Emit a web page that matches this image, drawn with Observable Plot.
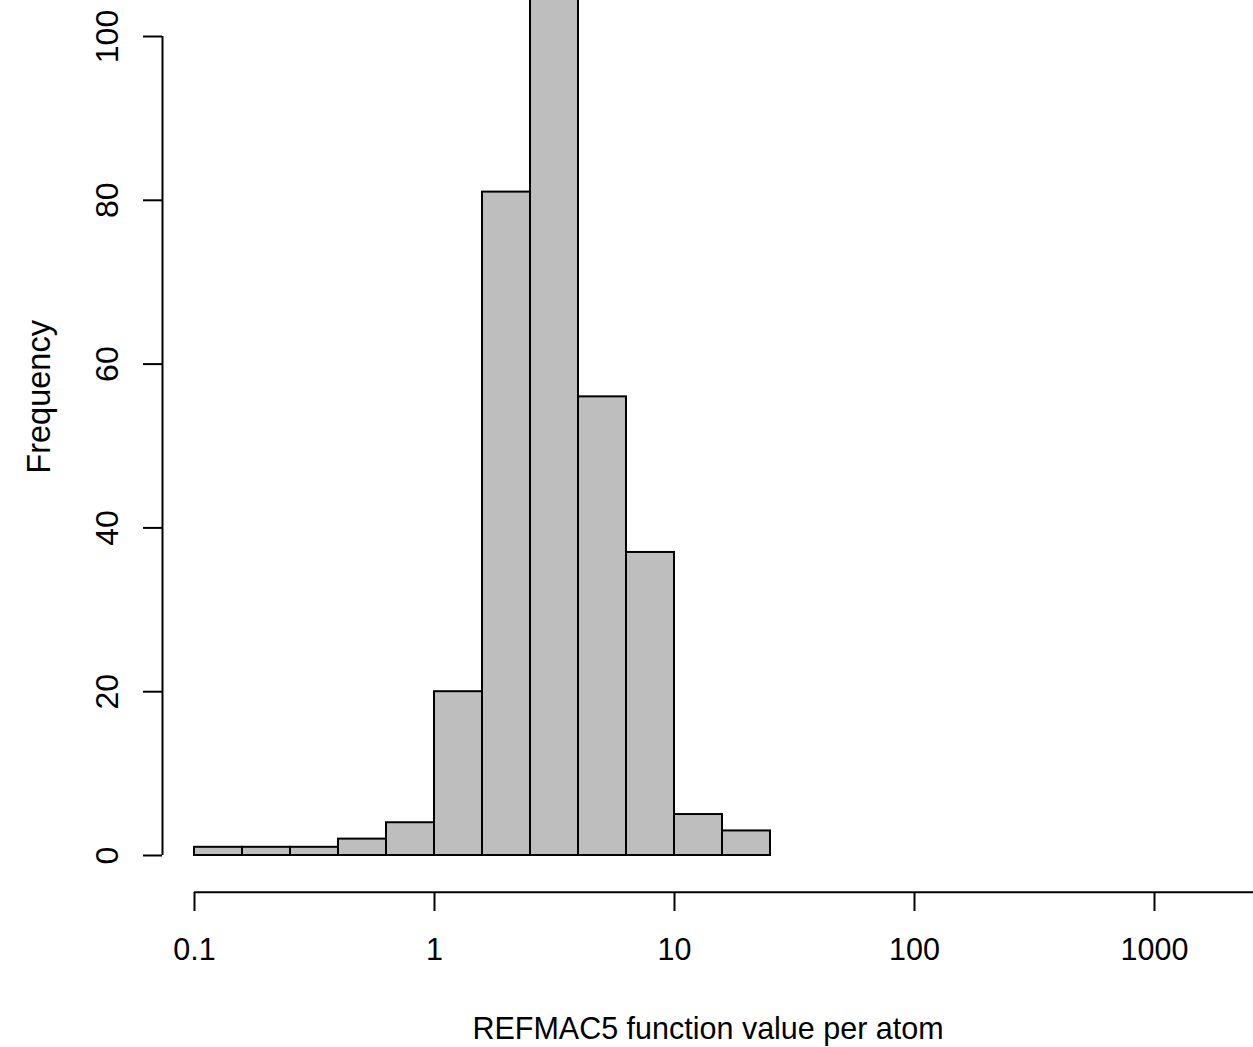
<!DOCTYPE html>
<html><head><meta charset="utf-8">
<script src="https://cdn.jsdelivr.net/npm/d3@7"></script>
<script src="https://cdn.jsdelivr.net/npm/@observablehq/plot@0.6"></script>
<style>
html,body{margin:0;padding:0;background:#fff;overflow:hidden}
#chart svg{display:block}
</style>
</head><body><div id="chart"></div>
<script>
// Histogram bin edges (log-spaced, 0.2 decade wide) and counts
const binEdges = [0.1, 0.15849, 0.25119, 0.39811, 0.63096, 1, 1.58489, 2.51189, 3.98107, 6.30957, 10, 15.84893, 25.11886];
const counts = [1, 1, 1, 2, 4, 20, 81, 112, 56, 37, 5, 3];
const xTicks = [0.1, 1, 10, 100, 1000];
const yTicks = [0, 20, 40, 60, 80, 100];
const xLabel = "REFMAC5 function value per atom";
const yLabel = "Frequency";

const bins = counts.map((c, i) => ({x1: binEdges[i], x2: binEdges[i + 1], count: c}));
const M = d3.max(counts);
const xAxisY = -0.04 * M;            // R-style axis offset below zero
const xLeft = 0.1 / Math.pow(10, 32 / 240);
const xRight = 0.1 * Math.pow(10, 1059 / 240);
const font = "'Liberation Sans', Arial, Helvetica, sans-serif";

const chart = Plot.plot({
  width: 1253,
  height: 1047,
  marginLeft: 162,
  marginRight: 0,
  marginTop: 36,
  marginBottom: 155,
  style: {fontFamily: font, fontSize: "31px", color: "black", background: "white", overflow: "hidden"},
  x: {type: "log", domain: [xLeft, xRight], range: [162, 1253]},
  y: {domain: [0, 100], range: [855, 36]},
  marks: [
    Plot.rectY(bins, {x1: "x1", x2: "x2", y1: 0, y2: "count", fill: "#BEBEBE", stroke: "black", strokeWidth: 2}),
    // axis lines
    Plot.ruleX([xLeft], {y1: yTicks[0], y2: yTicks[yTicks.length - 1], stroke: "black", strokeWidth: 2}),
    Plot.ruleY([xAxisY], {x1: xTicks[0], x2: xTicks[xTicks.length - 1] * 10, stroke: "black", strokeWidth: 2}),
    Plot.axisX(xTicks, {tickSize: 19, tickPadding: 27, strokeWidth: 2, tickFormat: d => String(d), label: null, fontSize: 30.5}),
    Plot.axisY(yTicks, {tickSize: 19, strokeWidth: 2, tickFormat: () => "", label: null}),
    Plot.text(yTicks, {y: d => d, text: d => String(d), frameAnchor: "left", dx: -45, rotate: -90, textAnchor: "middle", lineAnchor: "bottom", fontSize: 32}),
    Plot.text([yLabel], {text: d => d, y: () => M / 2, frameAnchor: "left", dx: -113, rotate: -90, textAnchor: "middle", lineAnchor: "bottom", fontSize: 32.5}),
    Plot.text([xLabel], {text: d => d, frameAnchor: "bottom", dy: 146, textAnchor: "middle", lineAnchor: "bottom", fontSize: 30.5})
  ]
});
document.getElementById("chart").appendChild(chart);
</script>
</body></html>
